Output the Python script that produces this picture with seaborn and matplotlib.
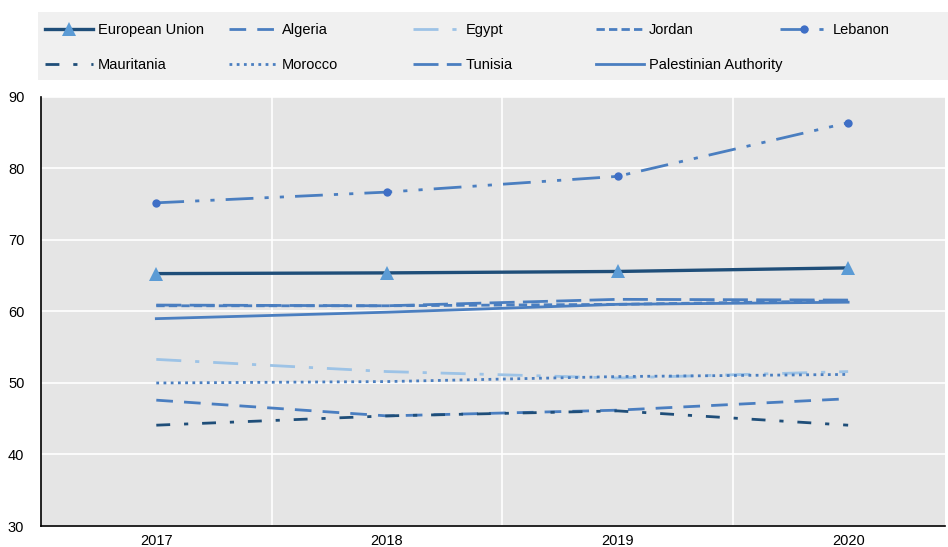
import pandas as pd
import seaborn as sns
import matplotlib.pyplot as plt
from matplotlib.patches import Rectangle
from matplotlib.legend import Legend
from matplotlib.ticker import FixedLocator

#// Data
years = ['2017', '2018', '2019', '2020']
european_union = [65.3, 65.4, 65.6, 66.1]
algeria = [47.6, 45.4, 46.2, 47.8]
egypt = [53.3, 51.6, 50.7, 51.6]
jordan = [60.8, 60.8, 61.0, 61.5]
lebanon = [75.2, 76.7, 78.9, 86.4]
mauritania = [44.1, 45.4, 46.1, 44.1]
morocco = [50.0, 50.2, 50.9, 51.2]
tunisia = [60.9, 60.8, 61.7, 61.6]
palestinian_authority = [59.0, 59.9, 61.0, 61.3]

series = {
    'European Union': european_union,
    'Algeria': algeria,
    'Egypt': egypt,
    'Jordan': jordan,
    'Lebanon': lebanon,
    'Mauritania': mauritania,
    'Morocco': morocco,
    'Tunisia': tunisia,
    'Palestinian Authority': palestinian_authority,
}

df = pd.DataFrame([(k, y, v) for k, vals in series.items() for y, v in zip(years, vals)],
                  columns=['country', 'year', 'value'])

#// Styles per series
dark = '#1F4E79'
mid = '#4A7EC0'
light = '#9DC3E6'
styles = {
    'European Union': dict(color=dark, lw=2.4, ls='-', marker='^', ms=10, mfc='#5B9BD5', mec='#5B9BD5'),
    'Algeria': dict(color=mid, lw=2, ls=(0, (6, 4))),
    'Egypt': dict(color=light, lw=2, ls=(0, (9, 5, 1.5, 5))),
    'Jordan': dict(color=mid, lw=2, ls=(0, (3, 1.5))),
    'Lebanon': dict(color=mid, lw=2, ls=(0, (10, 4, 1.5, 4, 1.5, 4)), marker='o', ms=6, mfc='#3F6FC6', mec='#3F6FC6'),
    'Mauritania': dict(color=dark, lw=2, ls=(0, (5, 5, 1.5, 5))),
    'Morocco': dict(color=mid, lw=2, ls=(0, (1, 1.6))),
    'Tunisia': dict(color=mid, lw=2, ls=(0, (9, 3))),
    'Palestinian Authority': dict(color=mid, lw=2, ls='-'),
}

plt.rcParams['font.family'] = ['Liberation Sans', 'DejaVu Sans']
FS = 10.5

fig = plt.figure(figsize=(9.48, 5.47), dpi=100)
ax = fig.add_axes([41 / 948, 1 - 526 / 547, 904 / 948, (526 - 97) / 547])
ax.set_facecolor('#E5E5E5')

for name, st in styles.items():
    sub = df[df['country'] == name]
    kw = dict(st)
    kw['markerfacecolor'] = kw.pop('mfc', None) or kw['color']
    kw['markeredgecolor'] = kw.pop('mec', None) or kw['color']
    kw['markersize'] = kw.pop('ms', 6)
    kw['linewidth'] = kw.pop('lw')
    kw['linestyle'] = kw.pop('ls')
    sns.lineplot(data=sub, x='year', y='value', ax=ax, sort=False, label=name,
                 markeredgewidth=0, zorder=3, **kw)

h, l = ax.get_legend_handles_labels()
ax.get_legend().remove()
hd = dict(zip(l, h))

#// Legend: grey band with five fixed-width columns
fig.patches.append(Rectangle((38 / 948, 1 - 80 / 547), 910 / 948, 68 / 547,
                             transform=fig.transFigure, facecolor='#F0F0F0',
                             edgecolor='none', zorder=0))
columns = [['European Union', 'Mauritania'], ['Algeria', 'Morocco'],
           ['Egypt', 'Tunisia'], ['Jordan', 'Palestinian Authority'], ['Lebanon']]
col_x = [45, 229, 413, 596, 780]
px = FS * 100 / 72
for names, x in zip(columns, col_x):
    leg = Legend(fig, [hd[n] for n in names], names, loc='upper left',
                 bbox_to_anchor=(x / 948, 1 - 23 / 547), bbox_transform=fig.transFigure,
                 frameon=False, fontsize=FS, handlelength=48 / px, handletextpad=5 / px,
                 borderpad=0, borderaxespad=0, labelspacing=1.42)
    fig.legends.append(leg)

ax.set_ylim(30, 90)
ax.set_xlim(-0.5, 3.42)
ax.set_yticks(range(30, 91, 10))
ax.xaxis.set_minor_locator(FixedLocator([0.5, 1.5, 2.5]))
ax.grid(axis='y', which='major', color='white', lw=1.2)
ax.grid(axis='x', which='minor', color='white', lw=1.2)
ax.set_axisbelow(True)
ax.set_xlabel('')
ax.set_ylabel('')
ax.tick_params(axis='both', which='both', length=0, labelsize=FS, colors='black')
ax.tick_params(axis='x', pad=6)
ax.tick_params(axis='y', pad=12)
for s in ['top', 'right']:
    ax.spines[s].set_visible(False)
for s in ['left', 'bottom']:
    ax.spines[s].set_color('black')
    ax.spines[s].set_linewidth(1.2)

fig.savefig('out.png', dpi=100)
